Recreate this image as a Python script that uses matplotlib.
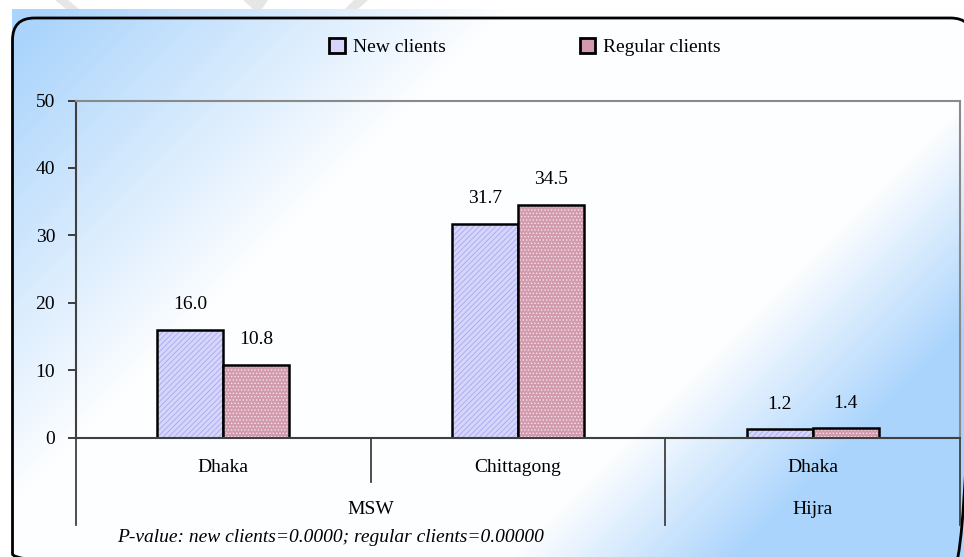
import numpy as np
import matplotlib
matplotlib.use('Agg')
import matplotlib.pyplot as plt
from matplotlib.patches import FancyBboxPatch, Polygon, Rectangle, Patch

# chart data
cities = ['Dhaka', 'Chittagong', 'Dhaka']
groups = ['MSW', 'Hijra']
new_clients = [16.0, 31.7, 1.2]
regular_clients = [10.8, 34.5, 1.4]
yticks = [0, 10, 20, 30, 40, 50]
note = 'P-value: new clients=0.0000; regular clients=0.00000'

plt.rcParams['font.family'] = ['Liberation Serif', 'DejaVu Serif']
plt.rcParams['hatch.linewidth'] = 0.6
FS = 14

W, H = 964, 557
fig = plt.figure(figsize=(W / 100, H / 100), dpi=100)

# background layer in pixel coordinates
bg = fig.add_axes([0, 0, 1, 1])

xx, yy = np.meshgrid(np.arange(W), np.arange(H))
t = (xx + yy) / (W + H)
w = np.clip((0.34 - t) / 0.30, 0, 1) + np.clip((t - 0.70) / 0.15, 0, 1)
w = np.clip(w, 0, 1)
blue = np.array([152, 203, 252]) / 255
white = np.array([253, 254, 255]) / 255
img = white[None, None, :] * (1 - w[..., None]) + blue[None, None, :] * w[..., None]
bg.imshow(img[9:, 12:], extent=(12, W, H, 9), aspect='auto', zorder=0)
bg.add_patch(Rectangle((12, 9), W - 12, H - 9, facecolor='none', edgecolor='white',
                       hatch='/' * 30, linewidth=0, alpha=0.18, zorder=1))

# watermark pieces at the top edge
for pts in [[(55, 0), (68, 0), (79, 9), (66, 9)],
            [(243, 0), (268, 0), (262, 9), (253, 9)],
            [(354, 0), (368, 0), (358, 9), (345, 9)]]:
    bg.add_patch(Polygon(pts, closed=True, facecolor='#e6e6e6', edgecolor='none', zorder=1))

# rounded frame
bg.add_patch(FancyBboxPatch((12.5, 18), 960, 558, boxstyle='round,pad=0,rounding_size=22',
                            facecolor='none', edgecolor='black', linewidth=2, zorder=2))
bg.set_xlim(0, W)
bg.set_ylim(H, 0)
bg.axis('off')

# main chart
ax = fig.add_axes([76 / W, (H - 437.5) / H, (960 - 76) / W, (437.5 - 100.5) / H])
ax.set_facecolor('none')

x = np.arange(len(cities))
bw = 0.224
ax.bar(x - bw / 2, new_clients, bw, color='#d6d6fc', edgecolor='#a8a8ee', hatch='//////', linewidth=0)
ax.bar(x - bw / 2, new_clients, bw, fill=False, edgecolor='black', linewidth=1.8)
ax.bar(x + bw / 2, regular_clients, bw, color='#d29aad', edgecolor='#f4e4ea', hatch='.....', linewidth=0)
ax.bar(x + bw / 2, regular_clients, bw, fill=False, edgecolor='black', linewidth=1.8)

for i in range(len(cities)):
    ax.annotate('%.1f' % new_clients[i], (x[i] - bw / 2, new_clients[i]), xytext=(0, 18),
                textcoords='offset points', ha='center', va='center', fontsize=FS)
    ax.annotate('%.1f' % regular_clients[i], (x[i] + bw / 2, regular_clients[i]), xytext=(0, 18),
                textcoords='offset points', ha='center', va='center', fontsize=FS)

ax.set_xlim(-0.5, 2.5)
ax.set_ylim(0, 50)
ax.set_yticks(yticks)
ax.set_yticklabels([str(v) for v in yticks], fontsize=FS)
ax.tick_params(axis='y', length=6, width=1.3, color='#303030', pad=9)
ax.set_xticks([])
ax.spines['left'].set_color('#404040')
ax.spines['left'].set_linewidth(1.5)
ax.spines['bottom'].set_color('#404040')
ax.spines['bottom'].set_linewidth(1.5)
ax.spines['top'].set_color('#8a8a8a')
ax.spines['top'].set_linewidth(1.5)
ax.spines['right'].set_color('#8a8a8a')
ax.spines['right'].set_linewidth(1.5)

# category labels and dividers below the axis
tr = ax.get_xaxis_transform()
for i, c in enumerate(cities):
    ax.text(x[i], -0.09, c, transform=tr, ha='center', va='center', fontsize=FS)
ax.text(0.5, -0.215, groups[0], transform=tr, ha='center', va='center', fontsize=FS)
ax.text(2.0, -0.215, groups[1], transform=tr, ha='center', va='center', fontsize=FS)
ax.plot([0.5, 0.5], [0, -0.132], transform=tr, color='#404040', lw=1.3, clip_on=False)
for xv in [-0.5, 1.5, 2.5]:
    ax.plot([xv, xv], [0, -0.26], transform=tr, color='#404040', lw=1.3, clip_on=False)

fig.text(117 / W, 1 - 538 / H, note, style='italic', fontsize=FS, ha='left', va='center')

handles = [Patch(facecolor='#d6d6fc', edgecolor='black', linewidth=2, label='New clients'),
           Patch(facecolor='#d29aad', edgecolor='black', linewidth=2, label='Regular clients')]
fig.legend(handles=handles, loc='center', bbox_to_anchor=(525 / W, 1 - 47 / H), ncol=2,
           frameon=False, fontsize=FS, handlelength=0.8, handleheight=0.8,
           handletextpad=0.4, columnspacing=6.9)

fig.savefig('out.png', dpi=100)
